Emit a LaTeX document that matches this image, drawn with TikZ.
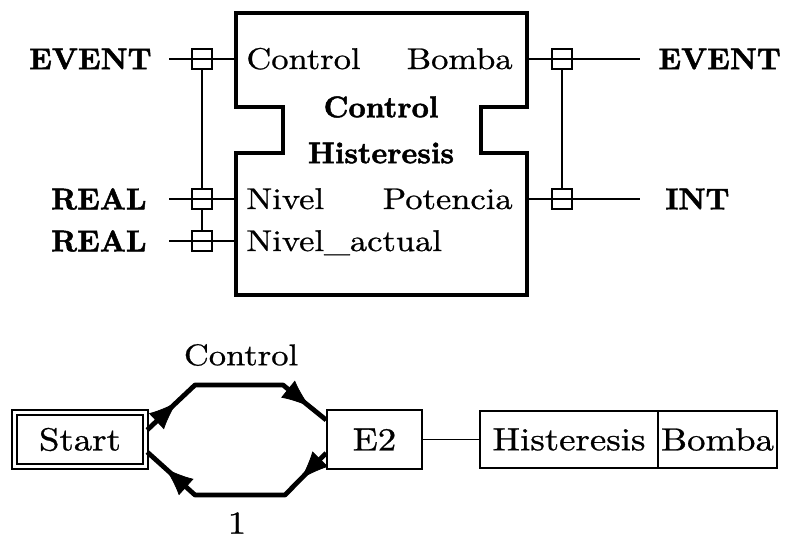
\documentclass[tikz,border=0pt]{standalone}
\usepackage{fontspec}
\newfontfamily\medfont{lmroman10-regular.otf}[FakeBold=0.8, FakeStretch=1.15]
\newfontfamily\heavyfont{lmroman10-bold.otf}[FakeBold=1.6]
\usetikzlibrary{arrows.meta,decorations.markings,calc}
\tikzset{
  rg/.style={font=\fontsize{15}{18}\medfont, inner sep=0pt},
  bd/.style={font=\fontsize{15}{18}\heavyfont, inner sep=0pt},
  thin line/.style={line width=0.8pt},
  port/.style={draw, line width=0.8pt, minimum width=10pt, minimum height=10pt, inner sep=0pt},
  blockline/.style={line width=2pt, line join=miter},
  flow/.style={line width=2.4pt, line join=round},
  midarrow/.style={postaction={decorate,decoration={markings,mark=at position 0.62 with {\arrow{Latex[length=14pt,width=11pt]}}}}},
  box/.style={draw, line width=0.8pt, inner sep=0pt, font=\fontsize{16}{19}\medfont},
}
\begin{document}
\begin{tikzpicture}[x=0.5pt,y=-0.5pt]
\useasboundingbox[fill=white] (0,0) rectangle (787,541);

% function block
\draw[blockline] (236,13) -- (527,13) -- (527,107) -- (481,107) -- (481,153) -- (527,153)
  -- (527,295) -- (236,295) -- (236,153) -- (283,153) -- (283,107) -- (236,107) -- cycle;

% block port points
\coordinate (bL1) at (236,59);
\coordinate (bL2) at (236,199);
\coordinate (bL3) at (236,241);
\coordinate (bR1) at (527,59);
\coordinate (bR2) at (527,199);
% free ends
\coordinate (eL1) at (169,59);
\coordinate (eL2) at (169,199);
\coordinate (eL3) at (169,241);
\coordinate (eR1) at (640,59);
\coordinate (eR2) at (640,199);

\draw[thin line] (eL1) -- (bL1);
\draw[thin line] (eL2) -- (bL2);
\draw[thin line] (eL3) -- (bL3);
\draw[thin line] (bR1) -- (eR1);
\draw[thin line] (bR2) -- (eR2);

\node[port] (pL1) at (202,59) {};
\node[port] (pL2) at (202,199) {};
\node[port] (pL3) at (202,241) {};
\node[port] (pR1) at (562,59) {};
\node[port] (pR2) at (562,199) {};
\draw[thin line] (pL1) -- (pL2);
\draw[thin line] (pL2) -- (pL3);
\draw[thin line] (pR1) -- (pR2);

% type labels
\node[bd, anchor=east] (tL1) at (152,59) {EVENT};
\node[bd, anchor=east] (tL2) at (147,199) {REAL};
\node[bd, anchor=east] (tL3) at (147,241) {REAL};
\node[bd, anchor=west] (tR1) at (658,59) {EVENT};
\node[bd, anchor=west] (tR2) at (665,199) {INT};

% port names
\node[rg, anchor=base west] (nC) at (246,69) {Control};
\node[rg, anchor=base west] (nN) at (246,209) {Nivel};
\node[rg, anchor=base west] (nNa) at (246,251) {Nivel\_actual};
\node[rg, anchor=base east] (nB) at (513,69) {Bomba};
\node[rg, anchor=base east] (nP) at (513,209) {Potencia};

% block title
\node[bd] (title1) at (381,107) {Control};
\node[bd] (title2) at (381,153) {Histeresis};

% ECC
\node[box, double, double distance=1.7pt, line width=0.7pt, minimum width=65.5pt, minimum height=27pt] (S) at (80,439.5) {Start};
\node[box, minimum width=47.5pt, minimum height=29.5pt] (E2) at (374.5,439.5) {E2};
\node[box, minimum width=89pt, minimum height=28.5pt] (H) at (569,439.5) {Histeresis};
\node[box, minimum width=59.5pt, minimum height=28.5pt] (Bo) at (717.5,439.5) {Bomba};
\draw[thin line] (E2.east) -- (H.west);

% transitions
\coordinate (t0) at ($(S.east)+(1,-9.5)$);
\coordinate (t1) at (195,385);
\coordinate (t2) at (283,385);
\coordinate (t3) at ($(E2.west)+(0,-19.5)$);
\coordinate (u0) at ($(E2.west)+(0,13.5)$);
\coordinate (u1) at (285,495);
\coordinate (u2) at (195,495);
\coordinate (u3) at ($(S.east)+(1,12.5)$);
\draw[flow] (t0) -- (t1) -- (t2) -- (t3);
\draw[flow] (u0) -- (u1) -- (u2) -- (u3);
\path[midarrow] (t0) -- (t1);
\path[midarrow] (t2) -- (t3);
\path[midarrow] (u0) -- (u1);
\path[midarrow] (u2) -- (u3);

\node[rg] (lc) at (241,355) {Control};
\node[rg, font=\fontsize{16}{19}\medfont] (l1) at (237,523) {1};
\end{tikzpicture}
\end{document}
